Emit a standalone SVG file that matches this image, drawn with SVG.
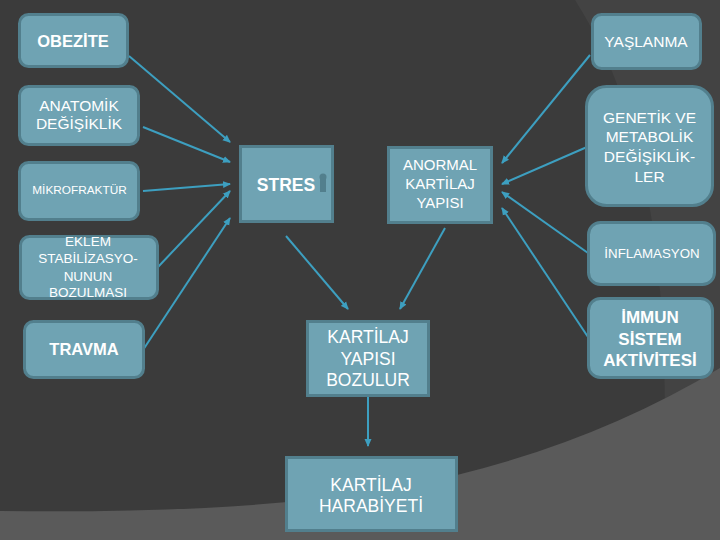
<svg xmlns="http://www.w3.org/2000/svg" width="720" height="540" viewBox="0 0 720 540">
<defs>
<style>
.box{fill:#6fa3b3;stroke:#527f8d;stroke-width:3}
.t{font-family:"Liberation Sans",Arial,sans-serif;fill:#ffffff;text-anchor:middle}
.b{font-weight:bold}
.c{stroke:#3d9fc0;stroke-width:2;fill:none;marker-end:url(#ah)}
</style>
<marker id="ah" viewBox="0 0 8 8" refX="7" refY="4" markerWidth="8" markerHeight="8" markerUnits="userSpaceOnUse" orient="auto">
<path d="M0,0.5 L8,4 L0,7.5 Z" fill="#3d9fc0"/>
</marker>
</defs>
<rect width="720" height="540" fill="#3b3b3b"/>
<path d="M575,0 L720,0 L720,380 L665,425 C 665,250 645,110 575,0 Z" fill="#434343"/>
<path d="M0,511 Q300,515 457,475 Q600,440 720,368 V540 H0 Z" fill="#5a5a5a"/>

<g id="connectors">
<line class="c" x1="129" y1="56" x2="230" y2="142"/>
<line class="c" x1="143" y1="127" x2="230" y2="162"/>
<line class="c" x1="143" y1="191" x2="230" y2="184"/>
<line class="c" x1="158" y1="267" x2="230" y2="191"/>
<line class="c" x1="143" y1="350" x2="230" y2="218"/>
<line class="c" x1="286" y1="236" x2="348" y2="309"/>
<line class="c" x1="445" y1="228" x2="400" y2="309"/>
<line class="c" x1="368" y1="396" x2="368" y2="446"/>
<line class="c" x1="590" y1="55" x2="502" y2="163"/>
<line class="c" x1="587" y1="147" x2="502" y2="184"/>
<line class="c" x1="588" y1="253" x2="502" y2="192"/>
<line class="c" x1="588" y1="337" x2="502" y2="208"/>
</g>

<g id="obezite">
<rect class="box" x="19.5" y="14.5" width="108" height="52" rx="9"/>
<text class="t b" x="73" y="47" font-size="16.5">OBEZİTE</text>
</g>
<g id="anatomik">
<rect class="box" x="19.5" y="86.5" width="119" height="58" rx="9"/>
<text class="t" x="79" y="111" font-size="15.5">ANATOMİK</text>
<text class="t" x="79" y="129" font-size="15.5">DEĞİŞİKLİK</text>
</g>
<g id="mikrofraktur">
<rect class="box" x="19.5" y="162.5" width="119" height="57" rx="9"/>
<text class="t" x="79.5" y="194" font-size="11.8">MİKROFRAKTÜR</text>
</g>
<g id="eklem">
<rect class="box" x="20.5" y="236.5" width="137" height="62" rx="9"/>
<text class="t" x="88" y="246" font-size="13.5">EKLEM</text>
<text class="t" x="88" y="263" font-size="13.5">STABİLİZASYO-</text>
<text class="t" x="88" y="281" font-size="13.5">NUNUN</text>
<text class="t" x="88" y="297" font-size="13.5">BOZULMASI</text>
</g>
<g id="travma">
<rect class="box" x="24.5" y="321.5" width="119" height="56" rx="9"/>
<text class="t b" x="84" y="355" font-size="16.5">TRAVMA</text>
</g>
<g id="stres">
<rect class="box" x="240.5" y="146.5" width="92" height="75"/>
<text class="t b" x="286" y="191" font-size="17.5">STRES</text>
<circle cx="323" cy="177" r="3.5" fill="#527f8d"/>
<rect x="320" y="177" width="6" height="15" fill="#527f8d"/>
</g>
<g id="anormal">
<rect class="box" x="388.5" y="147.5" width="103" height="75"/>
<text class="t" x="440" y="170" font-size="15">ANORMAL</text>
<text class="t" x="440" y="189" font-size="15">KARTİLAJ</text>
<text class="t" x="440" y="208" font-size="15">YAPISI</text>
</g>
<g id="yaslanma">
<rect class="box" x="592.5" y="14.5" width="108" height="54" rx="9"/>
<text class="t" x="646" y="47" font-size="15.5">YAŞLANMA</text>
</g>
<g id="genetik">
<rect class="box" x="586.5" y="86.5" width="126" height="119" rx="20"/>
<text class="t" x="649.5" y="123" font-size="15.5">GENETİK VE</text>
<text class="t" x="649.5" y="142" font-size="15.5">METABOLİK</text>
<text class="t" x="649.5" y="162" font-size="15.5">DEĞİŞİKLİK-</text>
<text class="t" x="649.5" y="182" font-size="15.5">LER</text>
</g>
<g id="inflamasyon">
<rect class="box" x="588.5" y="222.5" width="126" height="62" rx="12"/>
<text class="t" x="652" y="258" font-size="13.3">İNFLAMASYON</text>
</g>
<g id="immun">
<rect class="box" x="588.5" y="298.5" width="124" height="79" rx="12"/>
<text class="t b" x="650" y="323" font-size="17">İMMUN</text>
<text class="t b" x="650" y="345" font-size="17">SİSTEM</text>
<text class="t b" x="650" y="366" font-size="17">AKTİVİTESİ</text>
</g>
<g id="kartilaj-yapisi-bozulur">
<rect class="box" x="307.5" y="321.5" width="121" height="74"/>
<text class="t" x="368" y="343" font-size="17.5">KARTİLAJ</text>
<text class="t" x="368" y="365" font-size="17.5">YAPISI</text>
<text class="t" x="368" y="386" font-size="17.5">BOZULUR</text>
</g>
<g id="kartilaj-harabiyeti">
<rect class="box" x="286.5" y="457.5" width="170" height="73"/>
<text class="t" x="371" y="491" font-size="17.5">KARTİLAJ</text>
<text class="t" x="371" y="512" font-size="17.5">HARABİYETİ</text>
</g>
</svg>
